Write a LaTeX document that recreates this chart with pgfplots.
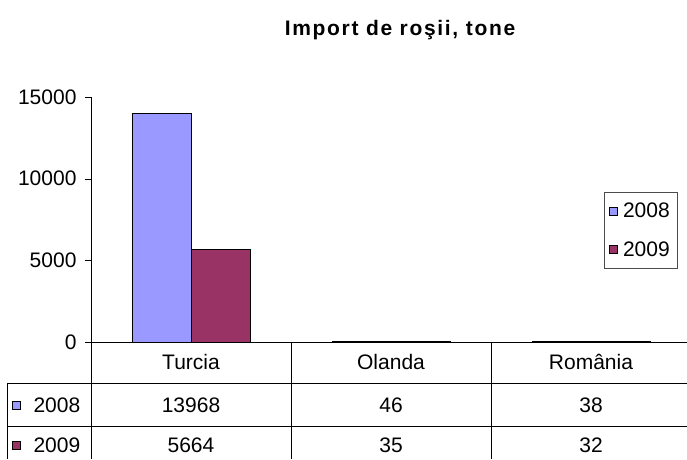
\documentclass[border=0pt]{standalone}
\usepackage{fontspec}
\setmainfont{Liberation Sans}
\usepackage{pgfplots}
\pgfplotsset{compat=1.18}
\definecolor{cA}{HTML}{9999FF}
\definecolor{cB}{HTML}{993366}
\newcommand{\f}{\fontsize{21}{24}\selectfont}
\begin{document}
\begin{tikzpicture}[x=1pt,y=1pt]
\useasboundingbox (0,0) rectangle (687,459);
\node[font=\fontsize{21}{24}\selectfont\bfseries\addfontfeatures{LetterSpace=8}] at (400,429) {Import de roşii, tone};
\begin{axis}[
  at={(91pt,117pt)}, anchor=south west,
  scale only axis, width=600pt, height=245pt,
  xmin=-0.5, xmax=2.5, ymin=0, ymax=15000,
  axis x line=bottom, axis y line=left,
  axis line style={-, black},
  xtick=\empty,
  ytick={0,5000,10000,15000},
  tick align=outside, major tick length=6pt,
  y tick style={black},
  /pgf/number format/assume math mode=true,
  /pgf/number format/1000 sep={},
  scaled y ticks=false,
  yticklabel style={font=\f, xshift=-5pt},
  ybar=0pt, bar width=59pt,
  clip=false,
  legend style={at={(rel axis cs:0.855,0.612)}, anchor=north west,
    draw=black!70, font=\f, row sep=18pt, inner xsep=5pt, inner ysep=9pt,
    nodes={inner sep=2pt},
    /tikz/every odd column/.append style={column sep=3pt}},
]
\addplot[fill=cA, draw=black, line width=1pt, legend image code/.code={\draw[fill=cA,draw=black,line width=0.8pt] (0pt,-4pt) rectangle (8pt,4pt);}]
  coordinates {(0,13968) (1,46) (2,38)};
\addplot[fill=cB, draw=black, line width=1pt, legend image code/.code={\draw[fill=cB,draw=black,line width=0.8pt] (0pt,-4pt) rectangle (8pt,4pt);}]
  coordinates {(0,5664) (1,35) (2,32)};
\legend{2008,2009}
\end{axis}
% data table
\draw[black] (91,117) -- (691,117);
\draw[black] (7,76) -- (691,76);
\draw[black] (7,33) -- (691,33);
\draw[black] (91,117) -- (91,0);
\draw[black] (291,117) -- (291,0);
\draw[black] (491,117) -- (491,0);
\draw[black] (7,76) -- (7,0);
\node[font=\f] at (191,97.5) {Turcia};
\node[font=\f] at (391,97.5) {Olanda};
\node[font=\f] at (591,97.5) {România};
\draw[fill=cA,draw=black,line width=0.8pt] (12,50) rectangle (20,58);
\node[font=\f,anchor=west] at (30,54) {2008};
\draw[fill=cB,draw=black,line width=0.8pt] (12,9.5) rectangle (20,17.5);
\node[font=\f,anchor=west] at (30,13.5) {2009};
\node[font=\f] at (191,54) {13968};
\node[font=\f] at (391,54) {46};
\node[font=\f] at (591,54) {38};
\node[font=\f] at (191,13.5) {5664};
\node[font=\f] at (391,13.5) {35};
\node[font=\f] at (591,13.5) {32};
\end{tikzpicture}
\end{document}
